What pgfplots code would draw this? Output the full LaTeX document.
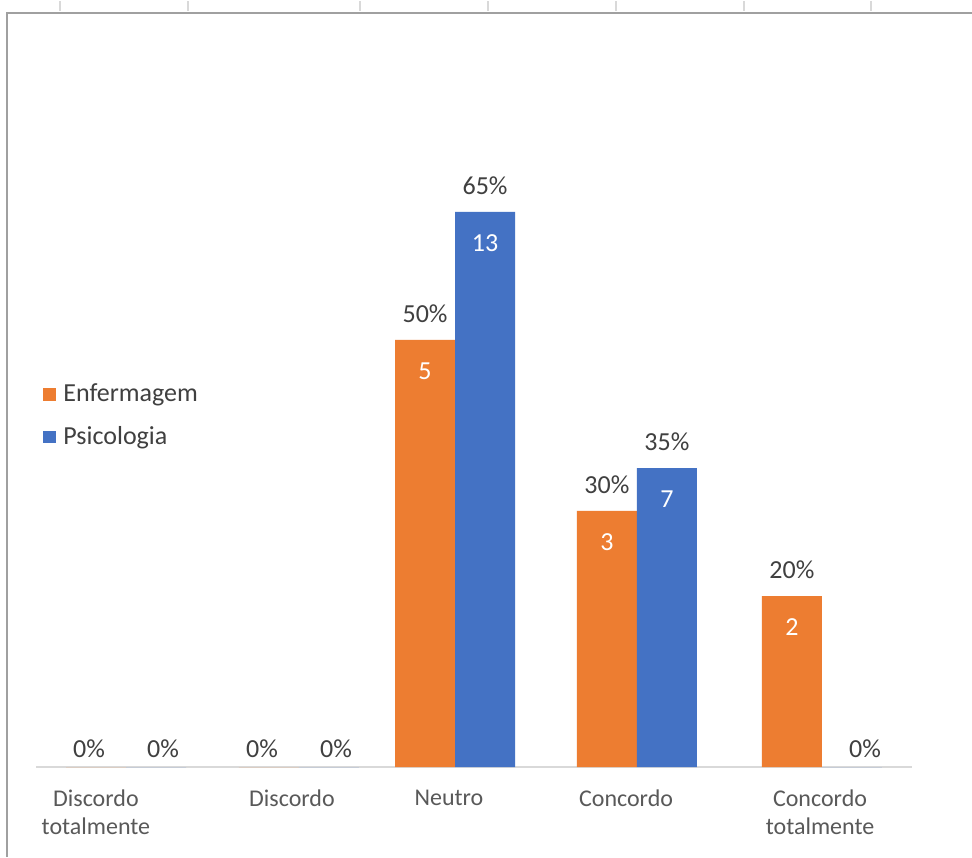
\documentclass[border=0pt]{standalone}
\usepackage{pgfplots}
\pgfplotsset{compat=1.18}
\usepackage{fontspec}
\setmainfont{Carlito}
\definecolor{orng}{HTML}{ED7D31}
\definecolor{blu}{HTML}{4472C4}
\definecolor{axgray}{HTML}{D9D9D9}
\definecolor{txtgray}{HTML}{595959}
\definecolor{lblgray}{HTML}{404040}
\definecolor{framegray}{HTML}{A0A0A0}
\begin{document}
\begin{tikzpicture}
\useasboundingbox (0pt,0pt) rectangle (486pt,-428.5pt);
\fill[white] (0pt,0pt) rectangle (486pt,-428.5pt);
\foreach \xx in {30,94,180,244,308,372,435.5} \draw[gray!30, line width=0.6pt] (\xx pt,-0.5pt) -- (\xx pt,-5.5pt);
\draw[framegray, line width=1pt] (3.5pt,-428.5pt) -- (3.5pt,-6.5pt) -- (486pt,-6.5pt);
\begin{axis}[
  at={(18pt,-383.5pt)}, anchor=south west,
  scale only axis, width=438pt, height=363pt,
  xmin=-0.5, xmax=4.5, ymin=0, ymax=85,
  ybar, bar width=30pt,
  axis y line=none, axis x line*=bottom,
  x axis line style={-, draw=axgray, line width=0.9pt},
  xtick={-0.158,0.961,1.857,2.868,3.975},
  xticklabels={{Discordo\\totalmente},Discordo,Neutro,Concordo,{Concordo\\totalmente}},
  xticklabel style={align=center, text=txtgray, font=\fontsize{12}{14}\selectfont, yshift=-8pt},
  major tick length=0pt, tick style={draw=none},
  clip=false,
  legend style={at={(0.008,0.484)}, anchor=west, draw=none, fill=none,
    font=\fontsize{13}{15}\selectfont, text=lblgray, row sep=7pt, inner sep=0pt,
    /tikz/every odd column/.append style={column sep=1.5pt}},
  legend cell align=left,
  legend image code/.code={\fill[#1] (0pt,-3.2pt) rectangle (6.5pt,3.2pt);},
]
\addplot[fill=orng, draw=none, bar shift=-15pt] coordinates {(0.014,0) (1.001,0) (1.892,50) (2.930,30) (3.986,20)};
\addplot[fill=blu, draw=none, bar shift=15pt] coordinates {(0.014,0) (1.001,0) (1.892,65) (2.930,35) (3.986,0)};
\legend{Enfermagem, Psicologia}
% percentage labels (non-zero)
\addplot[draw=none, fill=none, bar shift=-15pt, forget plot, point meta=explicit symbolic,
  nodes near coords, nodes near coords style={anchor=center, yshift=13pt, text=lblgray, font=\fontsize{13}{15}\selectfont}]
  coordinates {(1.892,50) [50\%] (2.930,30) [30\%] (3.986,20) [20\%]};
\addplot[draw=none, fill=none, bar shift=15pt, forget plot, point meta=explicit symbolic,
  nodes near coords, nodes near coords style={anchor=center, yshift=13pt, text=lblgray, font=\fontsize{13}{15}\selectfont}]
  coordinates {(1.892,65) [65\%] (2.930,35) [35\%]};
% zero labels
\addplot[draw=none, fill=none, bar shift=-18.5pt, forget plot, point meta=explicit symbolic,
  nodes near coords, nodes near coords style={anchor=center, yshift=9pt, text=lblgray, font=\fontsize{13}{15}\selectfont}]
  coordinates {(0.014,0) [0\%] (1.001,0) [0\%]};
\addplot[draw=none, fill=none, bar shift=18.5pt, forget plot, point meta=explicit symbolic,
  nodes near coords, nodes near coords style={anchor=center, yshift=9pt, text=lblgray, font=\fontsize{13}{15}\selectfont}]
  coordinates {(0.014,0) [0\%] (1.001,0) [0\%]};
\addplot[draw=none, fill=none, bar shift=21.5pt, forget plot, point meta=explicit symbolic,
  nodes near coords, nodes near coords style={anchor=center, yshift=9pt, text=lblgray, font=\fontsize{13}{15}\selectfont}]
  coordinates {(3.986,0) [0\%]};
% count labels inside bars
\addplot[draw=none, fill=none, bar shift=-15pt, forget plot, point meta=explicit symbolic,
  nodes near coords, nodes near coords style={anchor=center, yshift=-15.5pt, text=white, font=\fontsize{13}{15}\selectfont}]
  coordinates {(1.892,50) [5] (2.930,30) [3] (3.986,20) [2]};
\addplot[draw=none, fill=none, bar shift=15pt, forget plot, point meta=explicit symbolic,
  nodes near coords, nodes near coords style={anchor=center, yshift=-15.5pt, text=white, font=\fontsize{13}{15}\selectfont}]
  coordinates {(1.892,65) [13] (2.930,35) [7]};
\end{axis}
\end{tikzpicture}
\end{document}
